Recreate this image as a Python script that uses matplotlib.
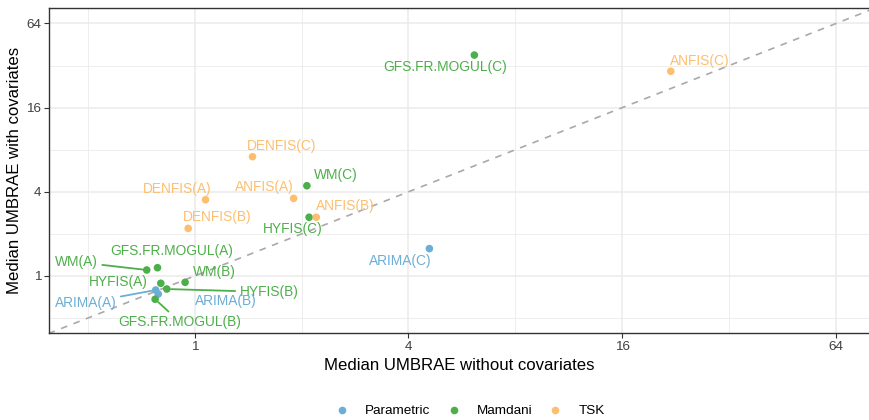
import numpy as np
import matplotlib
matplotlib.use('Agg')
import matplotlib.pyplot as plt
from matplotlib.lines import Line2D
from matplotlib.ticker import NullFormatter

plt.rcParams['font.family'] = ['Liberation Sans', 'DejaVu Sans']

# values
models = ['ANFIS(C)', 'GFS.FR.MOGUL(C)', 'DENFIS(C)', 'WM(C)', 'DENFIS(A)', 'ANFIS(A)',
          'HYFIS(C)', 'ANFIS(B)', 'DENFIS(B)', 'ARIMA(C)', 'WM(A)', 'GFS.FR.MOGUL(A)',
          'HYFIS(A)', 'WM(B)', 'HYFIS(B)', 'ARIMA(A)', 'ARIMA(B)', 'GFS.FR.MOGUL(B)']
groups = ['TSK', 'Mamdani', 'TSK', 'Mamdani', 'TSK', 'TSK',
          'Mamdani', 'TSK', 'TSK', 'Parametric', 'Mamdani', 'Mamdani',
          'Mamdani', 'Mamdani', 'Mamdani', 'Parametric', 'Parametric', 'Mamdani']
without_cov = [21.9, 6.13, 1.455, 2.07, 1.073, 1.90,
               2.10, 2.20, 0.959, 4.58, 0.733, 0.786,
               0.803, 0.940, 0.835, 0.777, 0.790, 0.774]
with_cov = [29.1, 38.0, 7.13, 4.42, 3.51, 3.59,
            2.63, 2.63, 2.19, 1.57, 1.104, 1.146,
            0.887, 0.901, 0.807, 0.794, 0.743, 0.682]

group_order = ['Parametric', 'Mamdani', 'TSK']
colors = {'Parametric': '#6BAED6', 'Mamdani': '#4DAF4A', 'TSK': '#FDBF6F'}

# label placement (pixels from the point) and whether a leader line is drawn
label_offsets = {
    'ANFIS(C)': (29, 10, False), 'GFS.FR.MOGUL(C)': (-29, -12, False),
    'DENFIS(C)': (29, 11, False), 'WM(C)': (29, 11, False),
    'DENFIS(A)': (-28, 11, False), 'ANFIS(A)': (-29, 11, False),
    'HYFIS(C)': (-16, -12, False), 'ANFIS(B)': (29, 11, False),
    'DENFIS(B)': (29, 11, False), 'ARIMA(C)': (-29, -12, False),
    'WM(A)': (-70, 8, True), 'GFS.FR.MOGUL(A)': (14, 17, False),
    'HYFIS(A)': (-42, 1, False), 'WM(B)': (29, 10, False),
    'HYFIS(B)': (102, -3, True), 'ARIMA(A)': (-70, -13, True),
    'ARIMA(B)': (68, -7, False), 'GFS.FR.MOGUL(B)': (25, -23, True),
}

fig = plt.figure(figsize=(8.69, 4.2), dpi=100)
ax = fig.add_axes([49 / 869, 87 / 420, 821 / 869, 325 / 420])

ax.set_xscale('log', base=2)
ax.set_yscale('log', base=2)
ax.set_xlim(2 ** -1.362, 2 ** 6.316)
ax.set_ylim(2 ** -1.354, 2 ** 6.366)

ticks = [1, 4, 16, 64]
minor = [0.5, 2, 8, 32]
ax.set_xticks(ticks)
ax.set_xticklabels([str(t) for t in ticks])
ax.set_yticks(ticks)
ax.set_yticklabels([str(t) for t in ticks])
ax.set_xticks(minor, minor=True)
ax.set_yticks(minor, minor=True)
ax.xaxis.set_minor_formatter(NullFormatter())
ax.yaxis.set_minor_formatter(NullFormatter())
ax.tick_params(which='minor', length=0)
ax.tick_params(which='major', length=3.5, width=0.8, color='#333333',
               labelsize=9.7, labelcolor='#404040', pad=2)
ax.grid(which='major', color='#EBEBEB', lw=1.1)
ax.grid(which='minor', color='#EBEBEB', lw=0.6)
ax.set_axisbelow(True)
for s in ax.spines.values():
    s.set_color('#333333')
    s.set_linewidth(1.0)
ax.spines['right'].set_visible(False)

ax.plot([0.1, 200], [0.1, 200], ls=(0, (4, 4)), color='#A9A9A9', lw=1.2, zorder=1)

for m, g, x, y in zip(models, groups, without_cov, with_cov):
    c = colors[g]
    ax.scatter(x, y, s=30, color=c, edgecolor='none', zorder=3)
    dx, dy, seg = label_offsets[m]
    arrow = None
    if seg:
        arrow = dict(arrowstyle='-', color=c, lw=1.3, shrinkA=1, shrinkB=3)
    ax.annotate(m, (x, y), xytext=(dx, dy), textcoords='offset pixels',
                ha='center', va='center', fontsize=9.9, color=c,
                arrowprops=arrow, zorder=4)

ax.set_xlabel('Median UMBRAE without covariates', fontsize=12.1, labelpad=4)
ax.set_ylabel('Median UMBRAE with covariates', fontsize=12.1, labelpad=3)

handles = [Line2D([], [], marker='o', ls='', markersize=5.5, color=colors[g],
                  markeredgewidth=0) for g in group_order]
fig.legend(handles, group_order, loc='center', bbox_to_anchor=(470 / 869, 1 - 411 / 420),
           ncol=3, frameon=False, fontsize=9.7, handletextpad=1.2, columnspacing=1.23,
           handlelength=1.0)

fig.savefig('out.png', dpi=100)
